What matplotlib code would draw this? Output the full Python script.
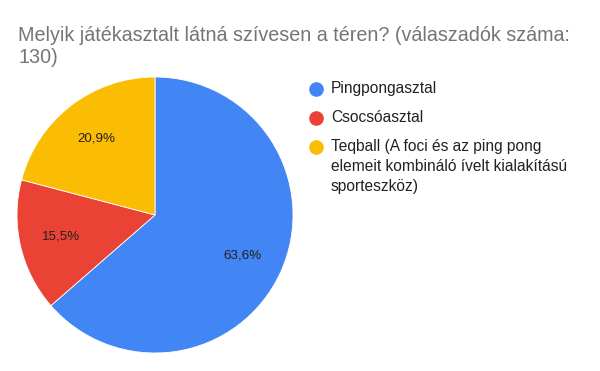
import matplotlib
matplotlib.use("Agg")
import matplotlib.pyplot as plt
from matplotlib.lines import Line2D

plt.rcParams['font.family'] = ['Liberation Sans', 'DejaVu Sans']

title = "Melyik játékasztalt látná szívesen a téren? (válaszadók száma:\n130)"
categories = ["Pingpongasztal", "Csocsóasztal",
              "Teqball (A foci és az ping pong\nelemeit kombináló ívelt kialakítású\nsporteszköz)"]
values = [63.6, 15.5, 20.9]
colors = ["#4285F4", "#EA4335", "#FBBC04"]

W, H = 600, 371
fig = plt.figure(figsize=(W / 100, H / 100), dpi=100)

# pie axes: center (155,215), radius 138 px
cx, cy, r = 155, 215, 138
ax = fig.add_axes([(cx - r) / W, (H - cy - r) / H, 2 * r / W, 2 * r / H])
ax.pie(values, colors=colors, startangle=90, counterclock=False,
       autopct=lambda p: f"{p:.1f}%".replace('.', ','), pctdistance=0.70,
       radius=1.0, wedgeprops=dict(linewidth=0.6, edgecolor='white'),
       textprops=dict(fontsize=9.6, color='#222222'))
ax.set_xlim(-1, 1)
ax.set_ylim(-1, 1)
ax.set_aspect('equal')
ax.axis('off')

fig.text(18 / W, 1 - 26 / H, title, ha='left', va='top', fontsize=14.2,
         color='#757575', linespacing=1.2)

# legend
rows_y = [89, 118, 147]
for cat, col, y in zip(categories, colors, rows_y):
    fig.add_artist(Line2D([316 / W], [1 - y / H], marker='o', markersize=9.5,
                          color=col, linestyle='none', transform=fig.transFigure))
    fig.text(331 / W, 1 - (y - 8.5) / H, cat, ha='left', va='top', fontsize=11.2,
             color='#222222', linespacing=1.43)

fig.savefig("out.png", dpi=100, facecolor='white')
